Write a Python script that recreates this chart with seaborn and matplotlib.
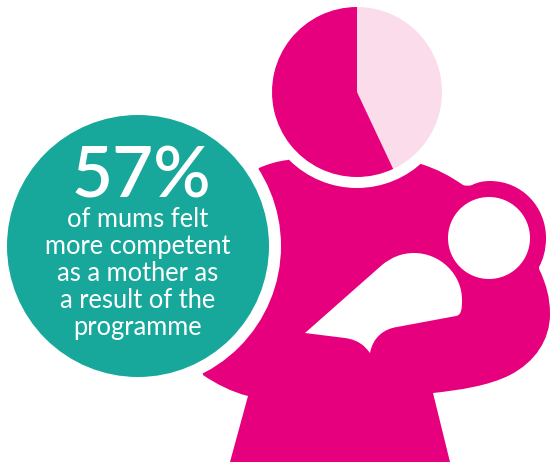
import matplotlib
matplotlib.use("Agg")
import matplotlib.pyplot as plt
from matplotlib.patches import Circle, PathPatch
from matplotlib.path import Path
import seaborn as sns

# Survey result shown by the pie and the callout
categories = ["Did not feel more competent", "Felt more competent"]
shares = [43, 57]
headline = "57%"
caption_lines = ["of mums felt", "more competent", "as a mother as", "a result of the", "programme"]

PINK = "#E6007E"
PALE = "#FADCEA"
TEAL = "#17A89B"
W, H = 550, 462

sns.set_theme(style="white")
plt.rcParams["font.family"] = ["Lato", "DejaVu Sans"]
colors = sns.color_palette([PALE, PINK])

fig = plt.figure(figsize=(W / 100, H / 100), dpi=100, facecolor="white")
ax = fig.add_axes([0, 0, 1, 1])
ax.set_xlim(0, W)
ax.set_ylim(H, 0)
ax.set_axis_off()


def outline(start, segments):
    """Build a path from a start point and line or cubic segments."""
    verts, codes = [start], [Path.MOVETO]
    for seg in segments:
        if len(seg) == 1:
            verts.append(seg[0])
            codes.append(Path.LINETO)
        else:
            verts.extend(seg)
            codes.extend([Path.CURVE4] * 3)
    verts.append(start)
    codes.append(Path.CLOSEPOLY)
    return Path(verts, codes)


# Silhouette of the mother, with the arm cut out as a separate shape on top
body = outline((259, 168), [
    [(268, 164), (278, 161), (288, 160)],
    [(340, 130)],
    [(421, 164)],
    [(437, 169), (450, 176), (463, 185)],
    [(466, 186), (469, 186), (472, 185)],
    [(478, 182), (484, 181), (490, 181)],
    [(522, 181), (546, 207), (546, 238)],
    [(546, 250), (543, 260), (539, 267)],
    [(539, 270), (540, 271), (541, 273)],
    [(546, 285), (550, 297), (550, 314)],
    [(550, 340), (535, 362), (510, 375)],
    [(488, 386), (460, 390), (433, 393)],
    [(450, 462)],
    [(230, 462)],
    [(248, 396)],
    [(232, 392), (216, 384), (203, 375)],
    [(190, 300)],
])
ax.add_patch(PathPatch(body, fc=PINK, ec="none", zorder=1))

arm = outline((305, 333), [
    [(382, 265)],
    [(392, 257), (402, 253), (414, 253)],
    [(440, 253), (462, 274), (462, 300)],
    [(462, 307), (462, 315), (456, 316)],
    [(397, 327)],
    [(384, 329), (373, 337), (370, 353)],
    [(364, 345), (358, 340), (345, 338)],
])
ax.add_patch(PathPatch(arm, fc="white", ec="none", zorder=2))
ax.add_patch(Circle((489, 238), 41, fc="white", ec="none", zorder=2))

# White rings separate the pie and the callout from the silhouette
ax.add_patch(Circle((357, 92), 96, fc="white", ec="none", zorder=3))
ax.add_patch(Circle((138, 246), 143, fc="white", ec="none", zorder=3))
ax.add_patch(Circle((138, 246), 131, fc=TEAL, ec="none", zorder=4))

ax.text(141, 197, headline, color="white", fontsize=51, fontweight="semibold",
        ha="center", va="baseline", zorder=5)
for i, line in enumerate(caption_lines):
    ax.text(138, 227 + i * 27, line, color="white", fontsize=18.4,
            ha="center", va="baseline", zorder=5)

# The pie starts at twelve o'clock and runs clockwise
pie_ax = fig.add_axes([272 / W, 1 - 177 / H, 170 / W, 170 / H])
pie_ax.pie(shares, colors=colors, startangle=90, counterclock=False, radius=1,
           wedgeprops={"linewidth": 0})
pie_ax.set_xlim(-1, 1)
pie_ax.set_ylim(-1, 1)

fig.savefig("out.png", dpi=100, facecolor="white")
